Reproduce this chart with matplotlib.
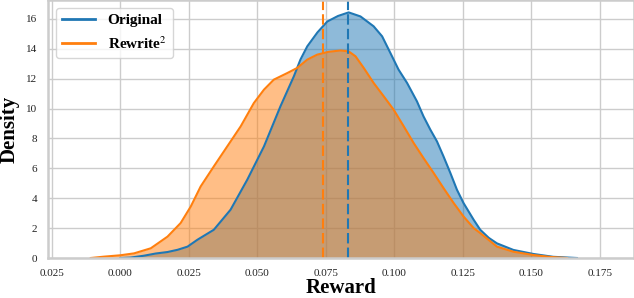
import matplotlib
matplotlib.use("Agg")
import matplotlib.pyplot as plt
from matplotlib.lines import Line2D

# densidade (Original)
x_original = [0.0000, 0.0039, 0.0086, 0.0130, 0.0173, 0.0210, 0.0246, 0.0282,
              0.0342, 0.0403, 0.0464, 0.0525, 0.0585, 0.0634, 0.0658, 0.0683,
              0.0720, 0.0756, 0.0795, 0.0834, 0.0877, 0.0925, 0.0956, 0.0986,
              0.1016, 0.1047, 0.1083, 0.1107, 0.1132, 0.1156, 0.1180, 0.1205,
              0.1229, 0.1253, 0.1290, 0.1314, 0.1345, 0.1375, 0.1435, 0.1508,
              0.1580, 0.1667]
y_original = [0.00, 0.03, 0.15, 0.30, 0.40, 0.55, 0.76, 1.22,
              1.89, 3.23, 5.24, 7.47, 10.15, 12.16, 13.28, 14.17,
              15.10, 15.83, 16.20, 16.44, 16.17, 15.51, 14.84, 13.73,
              12.61, 11.72, 10.49, 9.48, 8.59, 7.81, 6.80, 5.69,
              4.57, 3.68, 2.56, 1.89, 1.35, 0.98, 0.54, 0.27,
              0.08, 0.00]

# densidade (Rewrite^2)
x_rewrite = [-0.0107, -0.0059, 0.0000, 0.0051, 0.0112, 0.0173, 0.0221, 0.0258,
             0.0294, 0.0342, 0.0391, 0.0440, 0.0488, 0.0525, 0.0561, 0.0610,
             0.0646, 0.0683, 0.0719, 0.0760, 0.0804, 0.0834, 0.0859, 0.0889,
             0.0925, 0.0962, 0.0998, 0.1035, 0.1071, 0.1107, 0.1144, 0.1180,
             0.1217, 0.1253, 0.1290, 0.1314, 0.1375, 0.1435, 0.1508, 0.1570,
             0.1631]
y_rewrite = [0.00, 0.09, 0.18, 0.31, 0.65, 1.43, 2.34, 3.45,
             4.79, 6.13, 7.47, 8.81, 10.37, 11.27, 11.94, 12.38,
             12.72, 13.28, 13.61, 13.80, 13.89, 13.83, 13.50, 12.72,
             11.72, 10.82, 9.93, 8.81, 7.70, 6.69, 5.69, 4.68,
             3.68, 2.78, 2.00, 1.67, 0.76, 0.42, 0.20, 0.07,
             0.00]

media_original = 0.0832
media_rewrite = 0.0741

x_ticks = [-0.025, 0.000, 0.025, 0.050, 0.075, 0.100, 0.125, 0.150, 0.175]
x_tick_labels = ["0.025", "0.000", "0.025", "0.050", "0.075",
                 "0.100", "0.125", "0.150", "0.175"]
y_ticks = [0, 2, 4, 6, 8, 10, 12, 14, 16]

plt.rcParams["font.family"] = ["Liberation Serif", "DejaVu Serif"]
plt.rcParams["mathtext.fontset"] = "stix"

azul = "#1f77b4"
laranja = "#ff7f0e"

fig = plt.figure(figsize=(6.34, 2.98), dpi=100)
ax = fig.add_axes([48 / 634, 40 / 298, 586 / 634, 258 / 298])

ax.set_axisbelow(True)
ax.grid(True, color="#cccccc", linewidth=1)

ax.fill_between(x_original, y_original, color=azul, alpha=0.5, linewidth=0)
ax.plot(x_original, y_original, color=azul, linewidth=1.5)

ax.fill_between(x_rewrite, y_rewrite, color=laranja, alpha=0.5, linewidth=0)
ax.plot(x_rewrite, y_rewrite, color=laranja, linewidth=1.5)

# médias
ax.axvline(media_rewrite, color=laranja, linewidth=1.5, dashes=(5, 2))
ax.axvline(media_original, color=azul, linewidth=1.5, dashes=(5, 2))

ax.set_xlim(-0.0263, 0.1875)
ax.set_ylim(0, 17.27)

ax.set_xticks(x_ticks)
ax.set_xticklabels(x_tick_labels)
ax.set_yticks(y_ticks)
ax.tick_params(axis="both", length=0, labelsize=8, colors="#222222", pad=8)

for spine in ax.spines.values():
    spine.set_color("#cccccc")
    spine.set_linewidth(1.8)

ax.set_xlabel("Reward", fontsize=15, fontweight="bold", labelpad=0)
ax.set_ylabel("Density", fontsize=15, fontweight="bold", labelpad=4)

handles = [
    Line2D([0], [0], color=azul, linewidth=2),
    Line2D([0], [0], color=laranja, linewidth=2),
]
ax.legend(
    handles,
    ["Original", "Rewrite$^2$"],
    loc="upper left",
    prop={"weight": "bold", "size": 11},
    frameon=True,
    edgecolor="#cccccc",
    fancybox=True,
    borderpad=0.4,
    handlelength=2.2,
)

plt.savefig("out.png", dpi=100)
plt.close()
